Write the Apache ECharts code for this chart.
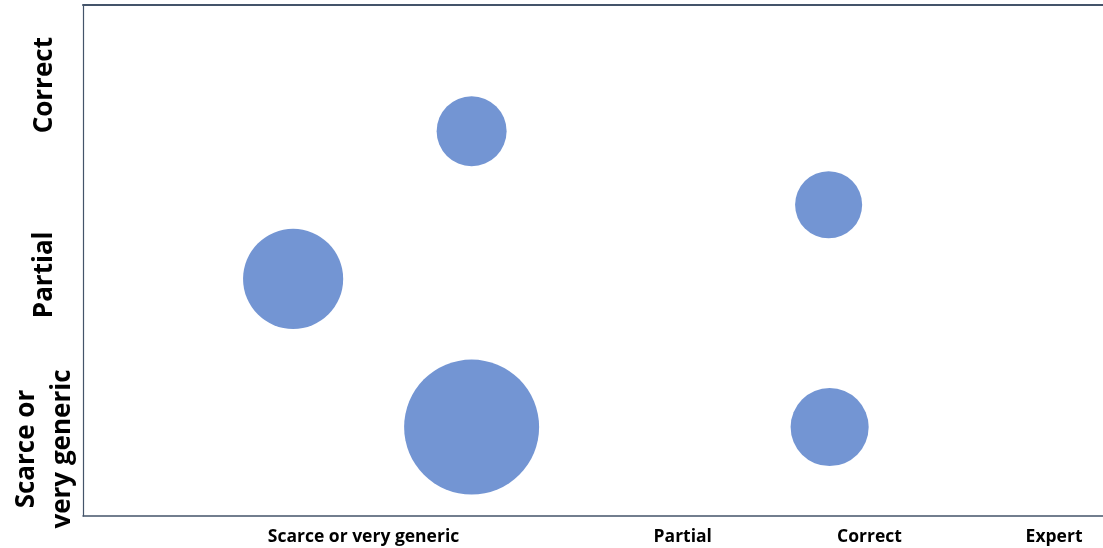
<!DOCTYPE html>
<html>
<head>
<meta charset="utf-8">
<title>Bubble chart</title>
<script src="https://cdn.jsdelivr.net/npm/echarts@6/dist/echarts.min.js"></script>
<style>
  html, body { margin: 0; padding: 0; background: #ffffff; }
  #chart { width: 1103px; height: 548px; }
</style>
</head>
<body>
<div id="chart"></div>
<script>
// Horizontal scale levels and where their labels sit on the 0–100 axis
const xLevels = ['Scarce or very generic', 'Partial', 'Correct', 'Expert'];
const xLevelPos = [27.5, 58.8, 77.1, 95.2];

// Vertical scale levels and their positions on the 0–100 axis
const yLevels = ['Scarce or\nvery generic', 'Partial', 'Correct'];
const yLevelPos = [13.1, 47.2, 84.3];

// Bubbles: position on both scales and the count each one represents
const bubbleX = [20.6, 38.1, 38.1, 73.1, 73.2];
const bubbleY = [46.4, 75.3, 17.4, 60.9, 17.4];
const bubbleCount = [8.8, 4.3, 16, 3.95, 5.35];

const AXIS_COLOR = '#44546a';
const BUBBLE_COLOR = '#7395d3';
const FONT = '"Open Sans", Lato, "Liberation Sans", sans-serif';
const SIZE_SCALE = 33.75; // bubble diameter per sqrt(count)

const points = bubbleX.map((x, i) => [x, bubbleY[i], bubbleCount[i]]);

function labelFor(positions, names) {
  return (value) => {
    const idx = positions.findIndex((p) => Math.abs(p - value) < 1e-6);
    return idx >= 0 ? names[idx] : '';
  };
}

const chart = echarts.init(document.getElementById('chart'), null, { renderer: 'canvas' });

chart.setOption({
  animation: false,
  backgroundColor: '#ffffff',
  grid: { left: 83, right: 0, top: 5, bottom: 32, containLabel: false },
  xAxis: [
    {
      type: 'value',
      min: 0,
      max: 100,
      position: 'bottom',
      axisLine: { show: true, lineStyle: { color: AXIS_COLOR, width: 1.5 } },
      axisTick: { show: false },
      splitLine: { show: false },
      axisLabel: {
        customValues: xLevelPos,
        formatter: labelFor(xLevelPos, xLevels),
        color: '#000000',
        fontFamily: FONT,
        fontWeight: 'bold',
        fontSize: 17.5,
        margin: 12
      }
    },
    {
      type: 'value',
      min: 0,
      max: 100,
      position: 'top',
      axisLine: { show: true, onZero: false, lineStyle: { color: AXIS_COLOR, width: 2 } },
      axisTick: { show: false },
      axisLabel: { show: false },
      splitLine: { show: false }
    }
  ],
  yAxis: {
    type: 'value',
    min: 0,
    max: 100,
    axisLine: { show: true, lineStyle: { color: AXIS_COLOR, width: 1.2 } },
    axisTick: { show: false },
    splitLine: { show: false },
    axisLabel: {
      customValues: yLevelPos,
      formatter: labelFor(yLevelPos, yLevels),
      rotate: 90,
      verticalAlign: 'middle',
      color: '#000000',
      fontFamily: FONT,
      fontWeight: 'bold',
      fontSize: 26,
      lineHeight: 36,
      margin: 38
    }
  },
  series: [
    {
      type: 'scatter',
      xAxisIndex: 0,
      data: points,
      symbol: 'circle',
      symbolSize: (val) => SIZE_SCALE * Math.sqrt(val[2]),
      itemStyle: { color: BUBBLE_COLOR, opacity: 1 },
      emphasis: { disabled: true }
    }
  ]
});
</script>
</body>
</html>
